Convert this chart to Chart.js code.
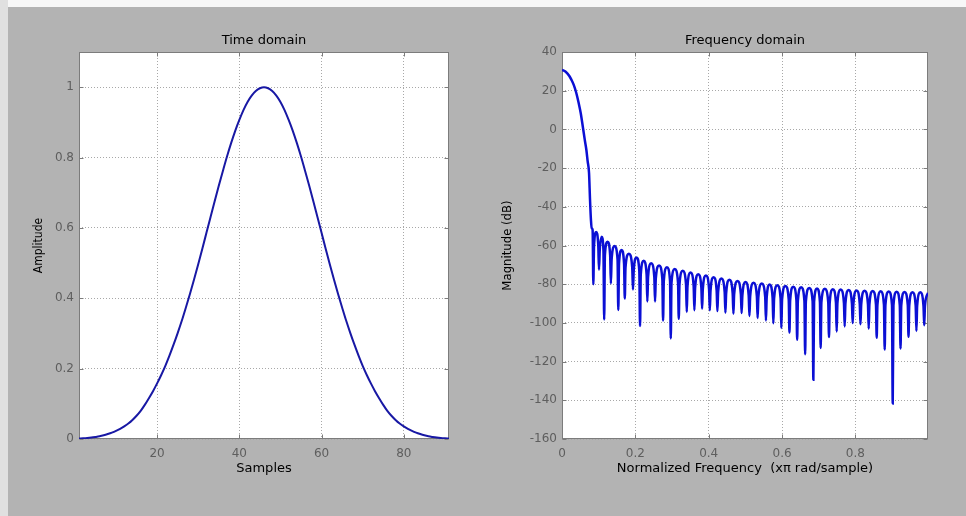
<!DOCTYPE html>
<html>
<head>
<meta charset="utf-8">
<script src="https://cdn.jsdelivr.net/npm/chart.js@4.4.0/dist/chart.umd.min.js"></script>
<style>
  html, body { margin: 0; padding: 0; }
  body { width: 966px; height: 516px; background: #b3b3b3; position: relative; overflow: hidden; }
  #topStrip { position: absolute; left: 0; top: 0; width: 966px; height: 7px; background: #f7f7f7; }
  #leftStrip { position: absolute; left: 0; top: 0; width: 8px; height: 516px; background: #e0e0e0; }
  .panel { position: absolute; top: 0; width: 483px; height: 516px; }
</style>
</head>
<body>
<div id="topStrip"></div>
<div id="leftStrip"></div>
<div class="panel" style="left:0"><canvas id="timeChart"></canvas></div>
<div class="panel" style="left:483px"><canvas id="freqChart"></canvas></div>
<script>
// ---- time domain: window samples ----
const sampleNo = [1,2,3,4,5,6,7,8,9,10,11,12,13,14,15,16,17,18,19,20,21,22,23,24,25,26,27,28,29,30,
  31,32,33,34,35,36,37,38,39,40,41,42,43,44,45,46,47,48,49,50,51,52,53,54,55,56,57,58,59,60,
  61,62,63,64,65,66,67,68,69,70,71,72,73,74,75,76,77,78,79,80,81,82,83,84,85,86,87,88,89,90,91];
const amplitude = [0.0014,0.0020,0.0028,0.0040,0.0057,0.0077,0.0105,0.014,0.018,0.023,0.029,0.036,0.044,0.054,0.066,
  0.080,0.097,0.116,0.136,0.158,0.182,0.208,0.237,0.268,0.301,0.336,0.374,0.413,0.454,0.497,
  0.541,0.586,0.631,0.676,0.720,0.762,0.803,0.841,0.876,0.907,0.935,0.958,0.976,0.989,0.997,
  1.000,
  0.997,0.989,0.976,0.958,0.935,0.907,0.876,0.841,0.803,0.762,0.720,0.676,0.631,0.586,0.541,
  0.497,0.454,0.413,0.374,0.336,0.301,0.268,0.237,0.208,0.182,0.158,0.136,0.116,0.097,0.080,
  0.066,0.054,0.044,0.036,0.029,0.023,0.018,0.014,0.0105,0.0077,0.0057,0.0040,0.0028,0.0020,0.0014];

// ---- frequency domain: main lobe, then sidelobe nulls and tops ----
const mainFreq = [0, 0.010, 0.020, 0.0255, 0.032, 0.039, 0.045, 0.051, 0.0573, 0.0620, 0.0664, 0.0700, 0.0737, 0.0764, 0.0790, 0.0812, 0.0835];
const mainDb   = [30.8, 29.8, 27.6, 25.7, 23.0, 18.8, 14.0, 8.5, 0.7, -5.3, -10.5, -16.5, -22.5, -36.3, -47.0, -51.0, -52.0];

const nullFreq = [0.0854, 0.1009, 0.1150, 0.1333, 0.1535, 0.1712, 0.1935, 0.2128, 0.2327, 0.2537, 0.2756,
  0.2966, 0.3184, 0.3402, 0.3610, 0.3820, 0.4030, 0.4237, 0.4456, 0.4674, 0.4898, 0.5111, 0.5334, 0.5561,
  0.5763, 0.5981, 0.6202, 0.6412, 0.6630, 0.6854, 0.7053, 0.7280, 0.7490, 0.7708, 0.7926, 0.8139, 0.8363,
  0.8581, 0.8799, 0.9018, 0.9231, 0.9449, 0.9664, 0.9877];
const nullDb = [-80.0, -72.5, -98.3, -79.6, -93.3, -87.4, -82.8, -101.6, -89.0, -89.0, -98.8,
  -108.0, -97.9, -94.4, -93.4, -92.7, -93.5, -93.9, -94.8, -95.3, -94.9, -96.4, -97.5, -98.7,
  -100.2, -102.6, -105.0, -108.7, -116.2, -129.4, -113.0, -107.3, -104.4, -101.8, -100.1, -100.7, -103.0,
  -107.7, -113.8, -141.6, -113.2, -107.2, -104.2, -101.2];
const lobeFreq = [0.0930, 0.1080, 0.1242, 0.1434, 0.1624, 0.1824, 0.2032, 0.2228, 0.2432, 0.2647, 0.2861,
  0.3075, 0.3293, 0.3506, 0.3715, 0.3925, 0.4134, 0.4347, 0.4565, 0.4786, 0.5005, 0.5223, 0.5448, 0.5662,
  0.5872, 0.6092, 0.6307, 0.6521, 0.6742, 0.6954, 0.7167, 0.7385, 0.7599, 0.7817, 0.8033, 0.8251, 0.8472,
  0.8690, 0.8909, 0.9125, 0.9340, 0.9557, 0.9771];
const lobeDb = [-53.0, -55.5, -58.0, -60.3, -62.3, -64.3, -66.2, -67.9, -69.2, -70.3, -71.3,
  -72.2, -73.1, -74.0, -74.8, -75.5, -76.4, -77.1, -77.7, -78.3, -78.9, -79.3, -79.7, -80.1,
  -80.5, -80.9, -81.3, -81.6, -81.9, -82.2, -82.4, -82.6, -82.8, -83.0, -83.2, -83.4, -83.5,
  -83.7, -83.8, -83.9, -84.0, -84.1, -84.2];
const edgeFreq = [0.998];
const edgeDb = [-84.4];

const timeTicks = { min: 1, max: 91, step: 20, yMin: 0, yMax: 1.1, yStep: 0.2 };
const freqTicks = { min: 0, max: 0.998, step: 0.2, yMin: -160, yMax: 40, yStep: 20 };

// lobe drawing: arch shoulders sit just beside each null
const SHOULDER = 0.002;
const ARCH = 7;

const freqPoints = mainFreq.map((f, i) => ({ x: f, y: mainDb[i] }));
nullFreq.forEach((f, i) => {
  freqPoints.push({ x: f, y: nullDb[i] });
  const top = i < lobeDb.length ? lobeDb[i] : edgeDb[0];
  freqPoints.push({ x: f + SHOULDER, y: top - ARCH });
  if (i < lobeDb.length) {
    freqPoints.push({ x: lobeFreq[i], y: lobeDb[i] });
    freqPoints.push({ x: nullFreq[i + 1] - SHOULDER, y: lobeDb[i] - ARCH });
  }
});
freqPoints.push({ x: edgeFreq[0], y: edgeDb[0] });

const tickFont = { family: 'DejaVu Sans', size: 12 };
const tickColor = '#5e5e5e';
const boxColor = '#7c7c7c';
const narrowFont = "'DejaVu Sans Condensed', 'Liberation Sans Narrow', 'Liberation Sans', sans-serif";

const matlabAxes = {
  id: 'matlabAxes',
  beforeDraw(chart) {
    const { ctx, chartArea: a } = chart;
    ctx.save();
    ctx.fillStyle = '#ffffff';
    ctx.fillRect(a.left, a.top, a.right - a.left, a.bottom - a.top);
    ctx.restore();
  },
  beforeDatasetsDraw(chart) {
    const { ctx, chartArea: a, scales } = chart;
    const L = Math.round(a.left) + 0.5, R = Math.round(a.right) - 0.5;
    const T = Math.round(a.top) + 0.5, B = Math.round(a.bottom) - 0.5;
    ctx.save();
    ctx.strokeStyle = boxColor;
    ctx.lineWidth = 1;
    ctx.strokeRect(L, T, R - L, B - T);
    ctx.beginPath();
    scales.y.ticks.forEach(t => {
      const y = Math.round(scales.y.getPixelForValue(t.value)) + 0.5;
      ctx.moveTo(L, y); ctx.lineTo(L + 4, y);
      ctx.moveTo(R, y); ctx.lineTo(R - 4, y);
    });
    scales.x.ticks.forEach(t => {
      const x = Math.round(scales.x.getPixelForValue(t.value)) + 0.5;
      ctx.moveTo(x, B); ctx.lineTo(x, B - 4);
      ctx.moveTo(x, T); ctx.lineTo(x, T + 4);
    });
    ctx.stroke();
    ctx.restore();
  }
};

const plainNumber = v => String(Math.round(v * 1000) / 1000);

function makeChart(id, title, xTitle, yTitle, yTitleSize, yTitleGap, rightPad, points, colour, lineWidth, t) {
  return new Chart(document.getElementById(id), {
    type: 'line',
    data: {
      datasets: [{
        data: points,
        borderColor: colour,
        borderWidth: lineWidth,
        pointRadius: 0,
        cubicInterpolationMode: 'monotone',
        fill: false
      }]
    },
    options: {
      responsive: true,
      maintainAspectRatio: false,
      animation: false,
      events: [],
      layout: { padding: { left: 0, right: rightPad, top: 0, bottom: 0 } },
      scales: {
        x: {
          type: 'linear',
          min: t.min,
          max: t.max,
          afterFit: s => { s.height = 77; },
          grid: { color: '#a8a8a8', drawTicks: false },
          border: { display: false, dash: [1, 2] },
          ticks: { stepSize: t.step, includeBounds: false, padding: 8, color: tickColor, font: tickFont, maxRotation: 0, callback: plainNumber },
          title: {
            display: true, text: xTitle, color: '#000',
            font: { family: 'DejaVu Sans', size: 13 },
            padding: { top: 0, bottom: 40 }
          }
        },
        y: {
          type: 'linear',
          min: t.yMin,
          max: t.yMax,
          afterFit: s => { s.width = 79; },
          grid: { color: '#a8a8a8', drawTicks: false },
          border: { display: false, dash: [1, 2] },
          ticks: { stepSize: t.yStep, includeBounds: false, padding: 5, color: tickColor, font: tickFont, callback: plainNumber },
          title: {
            display: true, text: yTitle, color: '#000',
            font: { family: narrowFont, size: yTitleSize },
            padding: { top: yTitleGap, bottom: 0 }
          }
        }
      },
      plugins: {
        legend: { display: false },
        tooltip: { enabled: false },
        title: {
          display: true,
          text: title,
          fullSize: false,
          color: '#000',
          font: { family: 'DejaVu Sans', size: 13, weight: 'normal' },
          padding: { top: 32.4, bottom: 4 }
        }
      }
    },
    plugins: [matlabAxes]
  });
}

makeChart('timeChart', 'Time domain', 'Samples', 'Amplitude', 12, 32, 34,
  sampleNo.map((s, i) => ({ x: s, y: amplitude[i] })), '#1818a4', 2, timeTicks);

makeChart('freqChart', 'Frequency domain', 'Normalized Frequency  (x\u03c0 rad/sample)', 'Magnitude (dB)', 13, 16.5, 38,
  freqPoints, '#0b0fd4', 2.5, freqTicks);
</script>
</body>
</html>
